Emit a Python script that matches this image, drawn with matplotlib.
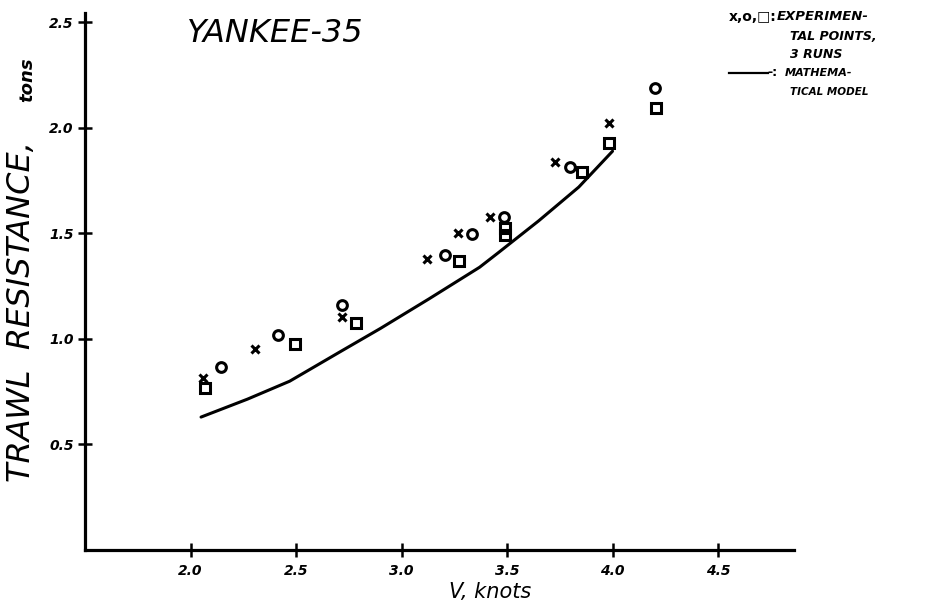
import matplotlib
matplotlib.use("Agg")
import matplotlib.pyplot as plt

# ---- data ----
run1_v = [2.06, 2.305, 2.716, 3.12, 3.27, 3.42, 3.725, 3.985]
run1_r = [0.815, 0.953, 1.104, 1.379, 1.502, 1.578, 1.837, 2.024]
run2_v = [2.144, 2.413, 2.716, 3.206, 3.336, 3.488, 3.798, 4.202]
run2_r = [0.867, 1.019, 1.161, 1.398, 1.498, 1.578, 1.815, 2.19]
run3_v = [2.068, 2.494, 2.783, 3.273, 3.492, 3.492, 3.857, 3.982, 4.207]
run3_r = [0.770, 0.976, 1.076, 1.372, 1.526, 1.493, 1.793, 1.929, 2.095]
model_v = [2.05, 2.27, 2.47, 2.71, 2.90, 3.13, 3.37, 3.46, 3.65, 3.84, 4.0]
model_r = [0.63, 0.715, 0.80, 0.94, 1.05, 1.19, 1.34, 1.41, 1.56, 1.72, 1.89]

x_ticks = [2.0, 2.5, 3.0, 3.5, 4.0, 4.5]
x_labels = ["2.0", "2.5", "3.0", "3.5", "4.0", "4.5"]
y_ticks = [0.5, 1.0, 1.5, 2.0, 2.5]
y_labels = ["0.5", "1.0", "1.5", "2.0", "2.5"]

W, H = 937, 606
fig = plt.figure(figsize=(W / 100, H / 100), dpi=100)
L, R, B, T = 85, 794, 550, 13
ax = fig.add_axes([L / W, (H - B) / H, (R - L) / W, (B - T) / H])

ax.plot(model_v, model_r, color="black", lw=2.2, solid_capstyle="round",
        solid_joinstyle="round")
ax.plot(run1_v, run1_r, ls="none", marker="x", ms=5.5, mew=2.2, color="black")
ax.plot(run2_v, run2_r, ls="none", marker="o", ms=7, mew=2.2, mfc="none", color="black")
ax.plot(run3_v, run3_r, ls="none", marker="s", ms=6.5, mew=2.2, mfc="none", color="black")

ax.set_xlim(1.5, 4.86)
ax.set_ylim(0, 2.545)
for s in ("top", "right"):
    ax.spines[s].set_visible(False)
for s in ("left", "bottom"):
    ax.spines[s].set_linewidth(2.3)

ax.set_xticks(x_ticks)
ax.set_xticklabels(x_labels)
ax.set_yticks(y_ticks)
ax.set_yticklabels(y_labels)
ax.tick_params(direction="inout", length=10, width=1.8, labelsize=10)
ax.tick_params(axis="y", pad=3)
ax.tick_params(axis="x", pad=5)
for lab in ax.get_xticklabels() + ax.get_yticklabels():
    lab.set_fontstyle("italic")
    lab.set_fontweight("bold")


def px(x, y):
    return x / W, 1 - y / H


fig.text(*px(275, 34), "YANKEE-35", fontsize=23, fontstyle="italic",
         ha="center", va="center")
fig.text(*px(22, 312), "TRAWL  RESISTANCE,", fontsize=23, fontstyle="italic",
         rotation=90, ha="center", va="center")
fig.text(*px(27, 80), "tons", fontsize=13, fontstyle="italic", fontweight="bold",
         rotation=90, ha="center", va="center")
fig.text(*px(490, 592), "V, knots", fontsize=15, fontstyle="italic",
         ha="center", va="center")

# legend note
fig.text(*px(729, 17), "x,o,\u25a1:", fontsize=10, fontweight="bold",
         ha="left", va="center")
fig.text(*px(777, 17), "EXPERIMEN-", fontsize=9.5, fontstyle="italic", fontweight="bold",
         ha="left", va="center")
fig.text(*px(790, 36), "TAL POINTS,", fontsize=9, fontstyle="italic", fontweight="bold",
         ha="left", va="center")
fig.text(*px(790, 55), "3 RUNS", fontsize=9, fontstyle="italic", fontweight="bold",
         ha="left", va="center")
fig.lines.append(plt.Line2D([729 / W, 768 / W], [1 - 73 / H, 1 - 73 / H],
                            transform=fig.transFigure, color="black", lw=1.6))
fig.text(*px(767, 73), "-:", fontsize=9, fontweight="bold", ha="left", va="center")
fig.text(*px(785, 73), "MATHEMA-", fontsize=8, fontstyle="italic", fontweight="bold",
         ha="left", va="center")
fig.text(*px(790, 92), "TICAL MODEL", fontsize=7.5, fontstyle="italic", fontweight="bold",
         ha="left", va="center")

fig.savefig("out.png", dpi=100, facecolor="white")
